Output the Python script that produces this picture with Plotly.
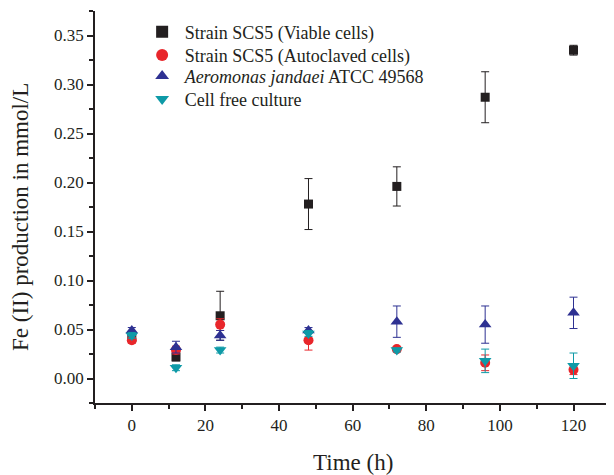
import plotly.graph_objects as go

time_h = [0, 12, 24, 48, 72, 96, 120]

viable = [0.042, 0.022, 0.064, 0.178, 0.196, 0.287, 0.335]
viable_err = [0.003, 0.004, 0.025, 0.026, 0.02, 0.026, 0.005]

autoclaved = [0.039, 0.029, 0.055, 0.039, 0.030, 0.016, 0.009]
autoclaved_err = [0.003, 0.004, 0.006, 0.010, 0.002, 0.008, 0.005]

aeromonas = [0.049, 0.032, 0.044, 0.049, 0.058, 0.055, 0.067]
aeromonas_err = [0.003, 0.006, 0.005, 0.003, 0.016, 0.019, 0.016]

cellfree = [0.044, 0.011, 0.029, 0.046, 0.029, 0.018, 0.013]
cellfree_err = [0.003, 0.003, 0.003, 0.003, 0.002, 0.012, 0.013]

names = ["Strain SCS5 (Viable cells)", "Strain SCS5 (Autoclaved cells)",
         "<i>Aeromonas jandaei</i> ATCC 49568", "Cell free culture"]
colors = ["#231f20", "#e8262b", "#2e3192", "#0e9aa7"]
symbols = ["square", "circle", "triangle-up", "triangle-down"]
sizes = [9, 10, 11, 11]
series = [(viable, viable_err), (autoclaved, autoclaved_err),
          (aeromonas, aeromonas_err), (cellfree, cellfree_err)]
legend_ids = ["legend", "legend2", "legend3", "legend4"]
legend_y = [0.946, 0.887, 0.8334, 0.7747]

fig = go.Figure()
for (vals, errs), name, c, s, sz, lg in zip(series, names, colors, symbols, sizes, legend_ids):
    fig.add_trace(go.Scatter(
        x=time_h, y=vals, mode="markers", name=name, legend=lg,
        marker=dict(symbol=s, color=c, size=sz, line=dict(width=0)),
        error_y=dict(type="data", array=errs, visible=True, color=c,
                     thickness=1, width=4),
    ))

font_family = "Liberation Serif, Times New Roman, serif"
axis_common = dict(
    showline=True, linecolor="#231f20", linewidth=1.5, showgrid=False,
    zeroline=False, ticks="outside", ticklen=6, tickwidth=1.5,
    tickcolor="#231f20", tickfont=dict(size=17), automargin=False,
)
legend_style = dict(xanchor="left", yanchor="middle", x=0.086,
                    bgcolor="rgba(0,0,0,0)", font=dict(size=18),
                    itemsizing="constant", itemwidth=35)
legends = {lg: dict(y=y, **legend_style) for lg, y in zip(legend_ids, legend_y)}

fig.update_layout(
    width=614, height=475,
    margin=dict(l=87, r=8, t=3, b=80),
    paper_bgcolor="white", plot_bgcolor="white",
    font=dict(family=font_family, size=17, color="#231f20"),
    showlegend=True,
    xaxis=dict(
        range=[-10, 131], tickmode="array", tickvals=[0, 20, 40, 60, 80, 100, 120],
        minor=dict(dtick=10, tick0=0, ticks="outside", ticklen=4,
                   tickwidth=1.5, tickcolor="#231f20", showgrid=False),
        **axis_common,
    ),
    yaxis=dict(
        range=[-0.025, 0.375], tickmode="array",
        tickvals=[0, 0.05, 0.1, 0.15, 0.2, 0.25, 0.3, 0.35],
        ticktext=["0.00", "0.05", "0.10", "0.15", "0.20", "0.25", "0.30", "0.35"],
        minor=dict(dtick=0.025, tick0=0, ticks="outside", ticklen=4,
                   tickwidth=1.5, tickcolor="#231f20", showgrid=False),
        **axis_common,
    ),
    annotations=[
        dict(text="Time (h)", xref="paper", yref="paper", x=0.497, y=0,
             xanchor="center", yanchor="middle", yshift=-59, showarrow=False,
             font=dict(size=23)),
        dict(text="Fe (II) production in mmol/L", xref="paper", yref="paper",
             x=0, y=0.4745, xanchor="center", yanchor="middle", xshift=-74,
             textangle=-90, showarrow=False, font=dict(size=23)),
    ],
    **legends,
)

fig.write_html("out.html")
